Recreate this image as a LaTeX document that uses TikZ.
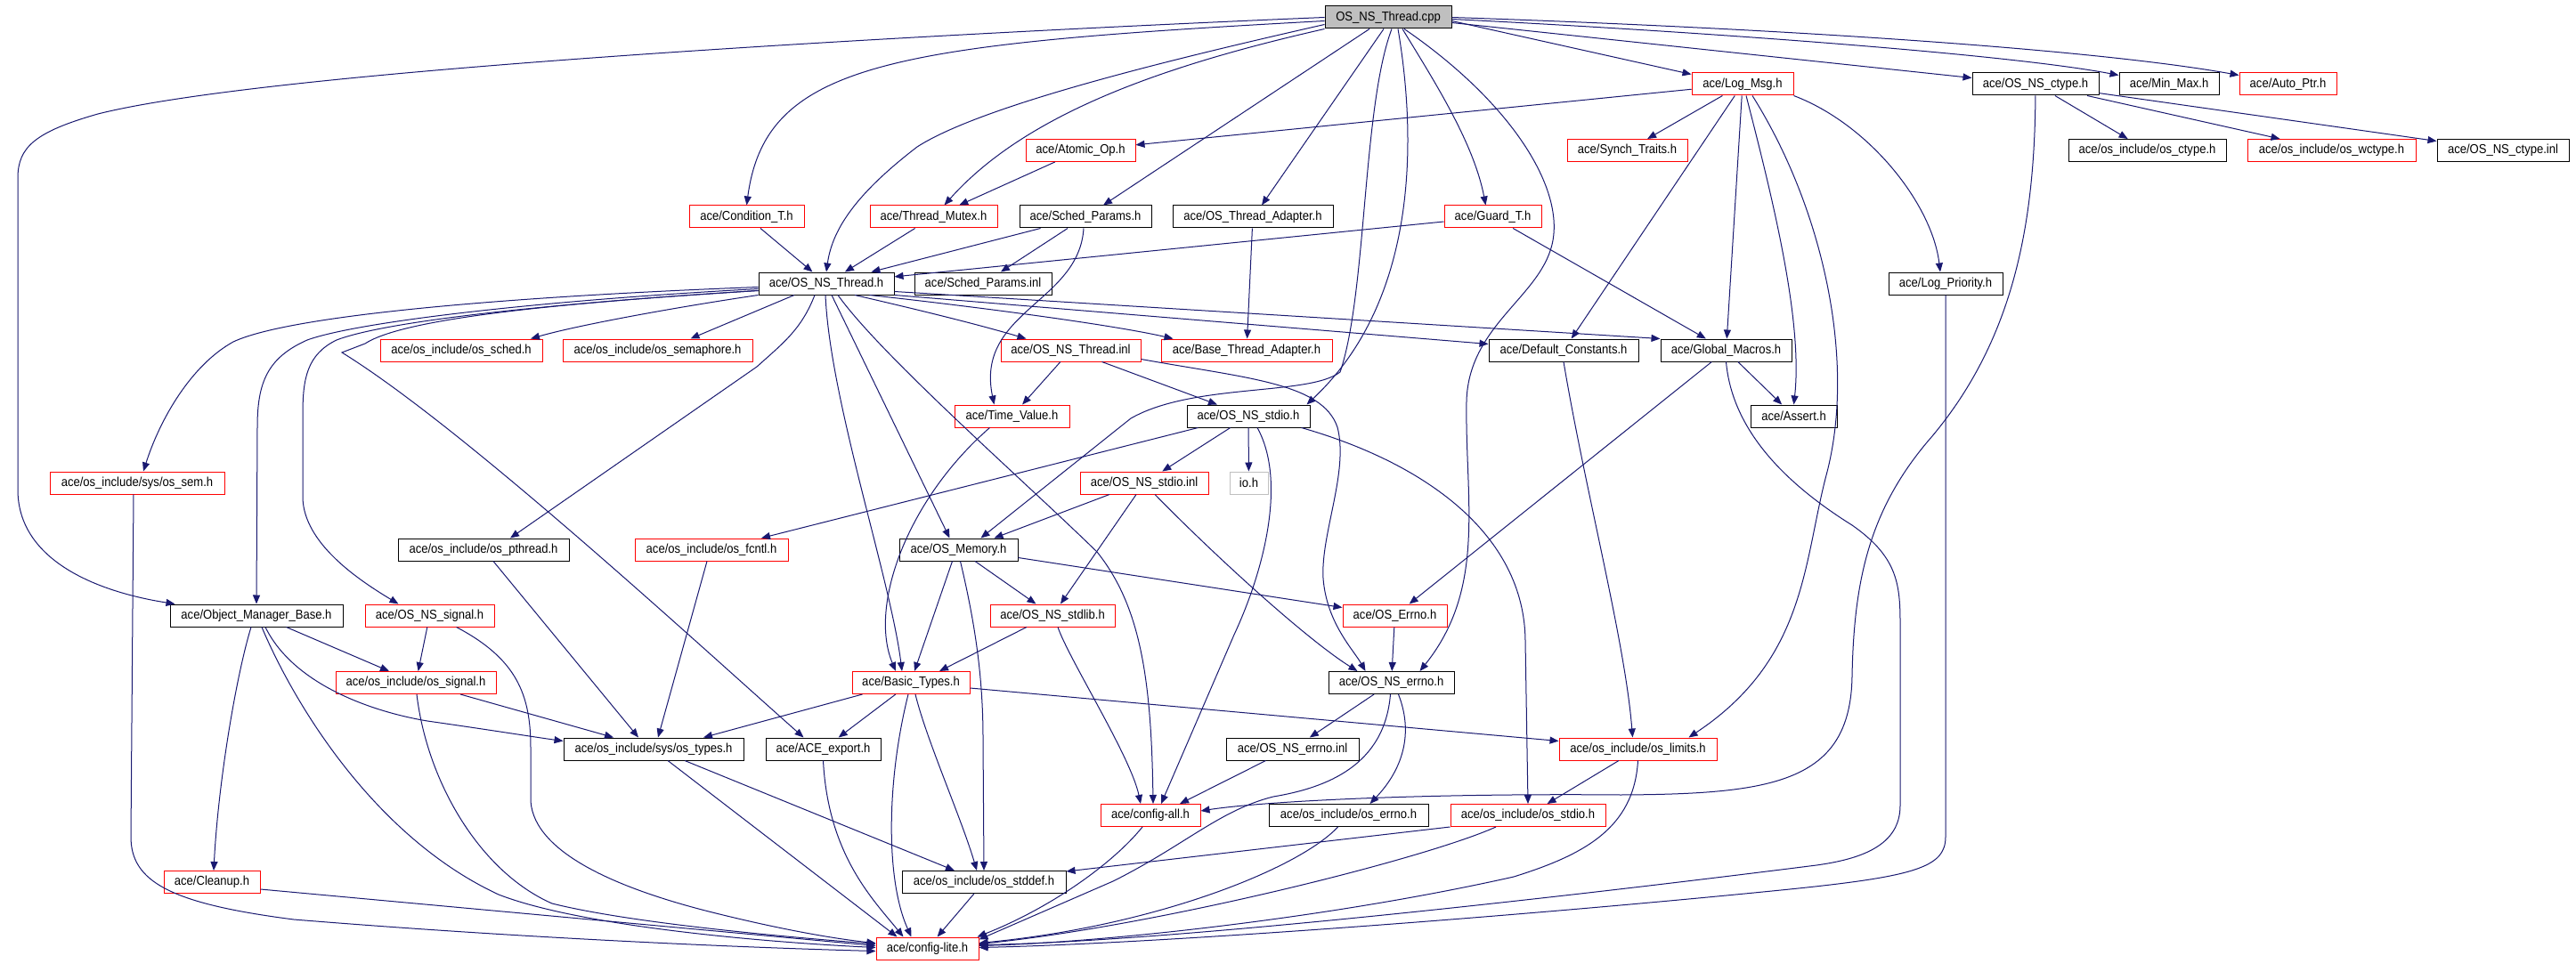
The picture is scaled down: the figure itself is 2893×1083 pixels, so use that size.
\documentclass[tikz,border=0pt]{standalone}
\usepackage{fontspec}
\setmainfont{Liberation Sans}[FakeStretch=0.9]
\usetikzlibrary{arrows.meta,calc}
\definecolor{edgeblue}{RGB}{25,25,112}
\definecolor{rootgray}{RGB}{191,191,191}
\newcommand{\lbl}{\fontsize{14.5}{16}\selectfont}
\begin{document}
\begin{tikzpicture}[x=1pt,y=-1pt,
 box/.style={rectangle, draw, line width=1pt, inner sep=0pt, minimum height=25pt, font=\lbl, fill=white},
 rb/.style={box, draw=red},
 kb/.style={box, draw=black},
 edg/.style={draw=edgeblue, line width=1pt, -{Triangle[length=10pt,width=8pt]}}]
\fill[white] (0,0) rectangle (2893,1083);
\useasboundingbox (0,0) rectangle (2893,1083);
% nodes
\node[kb, fill=rootgray, minimum width=142pt] (cpp) at (1559,19.5) {OS\_NS\_Thread.cpp};
\node[rb, minimum width=114pt] (lm) at (1957,94.5) {ace/Log\_Msg.h};
\node[kb, minimum width=142pt] (ctype) at (2286,94.5) {ace/OS\_NS\_ctype.h};
\node[kb, minimum width=112pt] (mm) at (2436,94.5) {ace/Min\_Max.h};
\node[rb, minimum width=109pt] (ap) at (2569.5,94.5) {ace/Auto\_Ptr.h};
\node[rb, minimum width=123pt] (ao) at (1213.5,169) {ace/Atomic\_Op.h};
\node[rb, minimum width=135pt] (st) at (1827.5,169) {ace/Synch\_Traits.h};
\node[kb, minimum width=177pt] (oc) at (2411.5,169) {ace/os\_include/os\_ctype.h};
\node[rb, minimum width=189pt] (owc) at (2618.5,169) {ace/os\_include/os\_wctype.h};
\node[kb, minimum width=148pt] (ci) at (2811,169) {ace/OS\_NS\_ctype.inl};
\node[rb, minimum width=129pt] (ct) at (838.5,243.5) {ace/Condition\_T.h};
\node[rb, minimum width=143pt] (tm) at (1048.5,243.5) {ace/Thread\_Mutex.h};
\node[kb, minimum width=148pt] (sp) at (1219,243.5) {ace/Sched\_Params.h};
\node[kb, minimum width=180pt] (ota) at (1407,243.5) {ace/OS\_Thread\_Adapter.h};
\node[rb, minimum width=109pt] (gt) at (1676.5,243.5) {ace/Guard\_T.h};
\node[kb, minimum width=152pt] (ost) at (928,318.5) {ace/OS\_NS\_Thread.h};
\node[kb, minimum width=154pt] (spi) at (1104,318.5) {ace/Sched\_Params.inl};
\node[kb, minimum width=128pt] (lp) at (2185,318.5) {ace/Log\_Priority.h};
\node[rb, minimum width=182pt] (osch) at (518,393.5) {ace/os\_include/os\_sched.h};
\node[rb, minimum width=213pt] (osem) at (738.5,393.5) {ace/os\_include/os\_semaphore.h};
\node[rb, minimum width=157pt] (nti) at (1202.5,393.5) {ace/OS\_NS\_Thread.inl};
\node[rb, minimum width=192pt] (bta) at (1400,393.5) {ace/Base\_Thread\_Adapter.h};
\node[kb, minimum width=168pt] (dc) at (1756,393.5) {ace/Default\_Constants.h};
\node[kb, minimum width=147pt] (gm) at (1938.5,393.5) {ace/Global\_Macros.h};
\node[rb, minimum width=129pt] (tv) at (1136.5,467.5) {ace/Time\_Value.h};
\node[kb, minimum width=138pt] (nstdio) at (1402,467.5) {ace/OS\_NS\_stdio.h};
\node[kb, minimum width=97pt] (as) at (2014.5,467.5) {ace/Assert.h};
\node[rb, minimum width=196pt] (sem) at (154,542.5) {ace/os\_include/sys/os\_sem.h};
\node[rb, minimum width=144pt] (nsi) at (1285,542.5) {ace/OS\_NS\_stdio.inl};
\node[box, draw=rootgray, minimum width=43pt] (io) at (1402.5,542.5) {io.h};
\node[kb, minimum width=192pt] (opt) at (543,617.5) {ace/os\_include/os\_pthread.h};
\node[rb, minimum width=172pt] (ofc) at (799,617.5) {ace/os\_include/os\_fcntl.h};
\node[kb, minimum width=133pt] (mem) at (1076.5,617.5) {ace/OS\_Memory.h};
\node[kb, minimum width=194pt] (omb) at (288,691.5) {ace/Object\_Manager\_Base.h};
\node[rb, minimum width=145pt] (nsig) at (482.5,691.5) {ace/OS\_NS\_signal.h};
\node[rb, minimum width=140pt] (nsl) at (1182,691.5) {ace/OS\_NS\_stdlib.h};
\node[rb, minimum width=117pt] (oerr) at (1566.5,691.5) {ace/OS\_Errno.h};
\node[rb, minimum width=180pt] (osig) at (467,767) {ace/os\_include/os\_signal.h};
\node[rb, minimum width=132pt] (bt) at (1023,767) {ace/Basic\_Types.h};
\node[kb, minimum width=141pt] (nerr) at (1562.5,767) {ace/OS\_NS\_errno.h};
\node[kb, minimum width=202pt] (oty) at (734,841.5) {ace/os\_include/sys/os\_types.h};
\node[kb, minimum width=129pt] (ae) at (924.5,841.5) {ace/ACE\_export.h};
\node[kb, minimum width=149pt] (nsei) at (1451.5,841.5) {ace/OS\_NS\_errno.inl};
\node[rb, minimum width=177pt] (lim) at (1839.5,841.5) {ace/os\_include/os\_limits.h};
\node[rb, minimum width=112pt] (ca) at (1292,916) {ace/config-all.h};
\node[kb, minimum width=179pt] (oe) at (1514.5,916) {ace/os\_include/os\_errno.h};
\node[rb, minimum width=174pt] (ostd) at (1716,916) {ace/os\_include/os\_stdio.h};
\node[rb, minimum width=108pt] (cu) at (238,991) {ace/Cleanup.h};
\node[kb, minimum width=184pt] (osd) at (1105,991) {ace/os\_include/os\_stddef.h};
\node[rb, minimum width=115pt] (cl) at (1041.5,1065.5) {ace/config-lite.h};
% cpp edges
\draw[edg] (cpp.west) .. controls (1000,40) and (300,80) .. (110,128) .. controls (40,148) and (20,165) .. (20,200) -- (20,550) .. controls (20,630) and (110,665) .. ($(omb.north west)+(6,0)$);
\draw[edg] ($(cpp.west)+(0,4)$) .. controls (1000,50) and (860,70) .. (ct.north);
\draw[edg] ($(cpp.west)+(0,8)$) .. controls (1300,70) and (1100,120) .. (1030,165) .. controls (965,215) and (935,255) .. (ost.north);
\draw[edg] (cpp.south west) .. controls (1300,75) and (1150,130) .. ($(tm.north)+(12,0)$);
\draw[edg] ($(cpp.south)+(-21,0)$) -- ($(sp.north)+(20,0)$);
\draw[edg] ($(cpp.south)+(-5,0)$) -- ($(ota.north)+(10,0)$);
\draw[edg] ($(cpp.south)+(4,0)$) .. controls (1530,120) and (1535,330) .. (1505,418) .. controls (1470,445) and (1340,430) .. (1270,470) -- ($(mem.north)+(25,0)$);
\draw[edg] ($(cpp.south)+(11,0)$) .. controls (1590,150) and (1595,335) .. ($(nstdio.north east)+(-4,0)$);
\draw[edg] ($(cpp.south)+(16,0)$) .. controls (1610,90) and (1655,160) .. ($(gt.north)+(-8,0)$);
\draw[edg] ($(cpp.south)+(18,0)$) .. controls (1690,110) and (1750,200) .. (1745,262) .. controls (1740,330) and (1650,360) .. (1647,450) .. controls (1645,560) and (1670,660) .. ($(nerr.north)+(32,0)$);
\draw[edg] ($(cpp.east)+(0,4)$) -- ($(lm.north west)+(0,2)$);
\draw[edg] (cpp.east) .. controls (2000,32) and (2350,55) .. ($(ap.north west)+(0,3)$);
\draw[edg] ($(cpp.east)+(0,2)$) .. controls (1900,35) and (2250,60) .. ($(mm.north west)+(0,3)$);
\draw[edg] ($(cpp.east)+(0,6)$) -- ($(ctype.north west)+(0,6)$);
% Log_Msg
\draw[edg] (lm) -- (ao);
\draw[edg] (lm) -- (st);
\draw[edg] (lm) -- (dc);
\draw[edg] (lm) -- (gm);
\draw[edg] ($(lm.south)+(4,0)$) .. controls (1990,220) and (2025,360) .. (as.north);
\draw[edg] ($(lm.south)+(11,0)$) .. controls (2045,230) and (2085,400) .. (2052,530) .. controls (2025,630) and (2030,740) .. ($(lim.north)+(57,0)$);
\draw[edg] (lm.south east) .. controls (2100,140) and (2170,230) .. ($(lp.north)+(-6,0)$);
% OS_NS_ctype.h
\draw[edg] (ctype) .. controls (2285,250) and (2262,380) .. (2170,490) .. controls (2100,570) and (2082,650) .. (2080,760) .. controls (2078,880) and (1990,892) .. (1820,893) .. controls (1600,891) and (1420,900) .. ($(ca.east)+(0,-5)$);
\draw[edg] (ctype) -- (oc);
\draw[edg] (ctype) -- (owc);
\draw[edg] (ctype) -- (ci);
% second row
\draw[edg] (ao) -- (tm);
\draw[edg] (ct) -- (ost);
\draw[edg] (tm) -- (ost);
\draw[edg] (sp) -- (ost);
\draw[edg] (sp) -- (spi);
\draw[edg] ($(sp.south)+(-2,0)$) .. controls (1212,340) and (1095,350) .. ($(tv.north)+(-20,0)$);
\draw[edg] (ota) -- (bta);
\draw[edg] (gt) -- (ost);
\draw[edg] (gt) -- (gm);
% OS_NS_Thread.h
\draw[edg] ($(ost.west)+(0,4)$) .. controls (600,332) and (330,352) .. (262,384) .. controls (215,410) and (180,470) .. ($(sem.north)+(7,0)$);
\draw[edg] ($(ost.west)+(0,6)$) .. controls (600,338) and (400,362) .. (345,382) .. controls (300,402) and (289,430) .. (289,480) -- (omb.north);
\draw[edg] ($(ost.west)+(0,8)$) .. controls (600,342) and (430,362) .. (378,382) .. controls (345,398) and (340,425) .. (340,465) -- (340,560) .. controls (342,610) and (400,650) .. ($(nsig.north)+(-35,0)$);
\draw[edg] ($(ost.west)+(0,8)$) .. controls (600,342) and (450,360) .. (410,386) -- (384,396) .. controls (520,480) and (780,720) .. ($(ae.north)+(-22,0)$);
\draw[edg] (ost.south west) .. controls (760,345) and (650,365) .. ($(osch.north)+(78,0)$);
\draw[edg] ($(ost.south)+(-36,0)$) -- ($(osem.north)+(37,0)$);
\draw[edg] ($(ost.south)+(-13,0)$) .. controls (900,370) and (880,385) .. (850,412) -- ($(opt.north)+(30,0)$);
\draw[edg] ($(ost.south)+(-1,0)$) .. controls (932,450) and (1000,650) .. ($(bt.north)+(-10,0)$);
\draw[edg] ($(ost.south)+(6,0)$) -- ($(mem.north)+(-10,0)$);
\draw[edg] ($(ost.south)+(13,0)$) .. controls (990,400) and (1150,540) .. (1232,620) .. controls (1280,680) and (1293,760) .. ($(ca.north)+(3,0)$);
\draw[edg] ($(ost.south)+(32,0)$) .. controls (1040,350) and (1100,365) .. ($(nti.north)+(-50,0)$);
\draw[edg] ($(ost.south east)+(-28,0)$) .. controls (1100,345) and (1250,365) .. ($(bta.north west)+(14,0)$);
\draw[edg] (ost.south east) -- ($(dc.north west)+(0,6)$);
\draw[edg] ($(ost.east)+(0,9)$) -- (gm.north west);
% OS_NS_Thread.inl
\draw[edg] (nti) -- (tv);
\draw[edg] (nti) -- (nstdio);
\draw[edg] ($(nti.south east)+(0,-3)$) .. controls (1400,425) and (1485,430) .. (1502,480) .. controls (1515,530) and (1483,600) .. (1486,650) .. controls (1490,700) and (1520,730) .. ($(nerr.north)+(-29,0)$);
% OS_NS_stdio.h
\draw[edg] ($(nstdio.south west)+(13,0)$) -- ($(ofc.north)+(56,0)$);
\draw[edg] (nstdio) -- (nsi);
\draw[edg] (nstdio) -- (io);
\draw[edg] ($(nstdio.south)+(10,0)$) .. controls (1445,540) and (1420,640) .. (1386,713) -- ($(ca.north)+(12,0)$);
\draw[edg] ($(nstdio.south east)+(-10,0)$) .. controls (1600,520) and (1712,600) .. (1713,720) -- (ostd.north);
% OS_NS_stdio.inl
\draw[edg] ($(nsi.south)+(-39,0)$) -- ($(mem.north)+(40,0)$);
\draw[edg] (nsi) -- (nsl);
\draw[edg] ($(nsi.south)+(12,0)$) .. controls (1370,630) and (1470,720) .. ($(nerr.north)+(-38,0)$);
% OS_Memory.h
\draw[edg] ($(mem.east)+(0,9)$) -- ($(oerr.north west)+(0,4)$);
\draw[edg] (mem) -- (nsl);
\draw[edg] ($(mem.south)+(-7,0)$) -- ($(bt.north)+(4,0)$);
\draw[edg] ($(mem.south)+(2,0)$) .. controls (1095,700) and (1104,760) .. (1104,830) -- (osd.north);
% OS_NS_stdlib.h
\draw[edg] ($(nsl.south)+(-29,0)$) -- ($(bt.north)+(32,0)$);
\draw[edg] ($(nsl.south)+(6,0)$) .. controls (1200,740) and (1270,850) .. ($(ca.north)+(-11,0)$);
% Time_Value.h
\draw[edg] ($(tv.south)+(-25,0)$) .. controls (1020,560) and (975,680) .. ($(bt.north)+(-17,0)$);
% Global_Macros.h
\draw[edg] (gm) -- (as);
\draw[edg] (gm) -- (oerr);
\draw[edg] (gm.south) .. controls (1945,480) and (2000,540) .. (2080,590) .. controls (2130,625) and (2134,655) .. (2134,700) -- (2134,905) .. controls (2134,950) and (2090,965) .. (2040,972) .. controls (1700,1015) and (1300,1058) .. ($(cl.east)+(0,-4)$);
% Default_Constants.h
\draw[edg] (dc.south) .. controls (1780,550) and (1825,720) .. ($(lim.north)+(-6,0)$);
% Log_Priority.h
\draw[edg] (lp.south) -- (2185,940) .. controls (2185,975) and (2150,985) .. (2000,1000) .. controls (1700,1030) and (1300,1060) .. ($(cl.east)+(0,-1)$);
% errno group
\draw[edg] (oerr) -- (nerr);
\draw[edg] (nerr) -- (nsei);
\draw[edg] ($(nerr.south)+(8,0)$) .. controls (1590,830) and (1570,870) .. ($(oe.north)+(24,0)$);
\draw[edg] ($(nerr.south)+(-1,0)$) .. controls (1555,860) and (1490,885) .. (1430,895) .. controls (1370,910) and (1330,950) .. (1250,990) -- ($(cl.east)+(0,-10)$);
\draw[edg] ($(nsei.south)+(-30,0)$) -- ($(ca.north)+(33,0)$);
% limits / stdio / errno
\draw[edg] (lim) -- (ostd);
\draw[edg] (lim.south) .. controls (1835,930) and (1780,960) .. (1700,985) .. controls (1500,1030) and (1250,1058) .. ($(cl.east)+(0,-3)$);
\draw[edg] ($(oe.south)+(-12,0)$) .. controls (1460,975) and (1300,1040) .. ($(cl.east)+(0,-6)$);
\draw[edg] (ostd.south west) -- ($(osd.north east)+(0,1)$);
\draw[edg] ($(ostd.south)+(-36,0)$) .. controls (1600,965) and (1300,1040) .. ($(cl.east)+(0,-5)$);
\draw[edg] ($(ca.south)+(-9,0)$) .. controls (1250,970) and (1180,1020) .. ($(cl.north east)+(-2,0)$);
% Basic_Types.h
\draw[edg] ($(bt.south west)+(12,0)$) -- ($(oty.north)+(56,0)$);
\draw[edg] (bt) -- (ae);
\draw[edg] ($(bt.south)+(-3,0)$) .. controls (995,880) and (995,990) .. ($(cl.north)+(-18,0)$);
\draw[edg] ($(bt.south)+(5,0)$) .. controls (1040,830) and (1080,920) .. ($(osd.north)+(-8,0)$);
\draw[edg] ($(bt.east)+(0,6)$) -- ($(lim.west)+(0,-9)$);
% ACE_export, os_types, os_stddef
\draw[edg] (ae.south) .. controls (930,960) and (980,1010) .. ($(cl.north)+(-27,0)$);
\draw[edg] ($(oty.south)+(16,0)$) -- ($(cl.north)+(-34,0)$);
\draw[edg] ($(oty.south)+(35,0)$) -- ($(osd.north)+(-33,0)$);
\draw[edg] (osd) -- (cl);
% left group
\draw[edg] ($(cu.east)+(0,8)$) -- ($(cl.west)+(0,-3)$);
\draw[edg] ($(sem.south)+(-4,0)$) -- (147,940) .. controls (147,990) and (190,1015) .. (330,1033) .. controls (600,1055) and (850,1065) .. ($(cl.west)+(0,3)$);
\draw[edg] ($(omb.south)+(6,0)$) .. controls (330,790) and (420,940) .. (560,1005) .. controls (650,1040) and (850,1058) .. ($(cl.west)+(0,-1)$);
\draw[edg] ($(omb.south)+(-6,0)$) .. controls (265,760) and (245,880) .. ($(cu.north)+(2,0)$);
\draw[edg] ($(omb.south east)+(-64,0)$) -- ($(osig.north)+(-30,0)$);
\draw[edg] ($(omb.south)+(10,0)$) .. controls (330,770) and (420,800) .. (480,810) .. controls (550,820) and (600,828) .. ($(oty.west)+(0,-9)$);
\draw[edg] (nsig) -- (osig);
\draw[edg] ($(nsig.south)+(30,0)$) .. controls (580,740) and (596,780) .. (596,840) -- (596,900) .. controls (600,960) and (700,1000) .. (800,1025) .. controls (880,1045) and (940,1055) .. ($(cl.west)+(0,-6)$);
\draw[edg] ($(osig.south)+(50,0)$) -- ($(oty.north)+(-45,0)$);
\draw[edg] ($(osig.south)+(1,0)$) .. controls (480,880) and (540,980) .. (620,1015) .. controls (700,1035) and (850,1050) .. ($(cl.west)+(0,-5)$);
\draw[edg] ($(opt.south)+(11,0)$) -- ($(oty.north)+(-17,0)$);
\draw[edg] ($(ofc.south)+(-5,0)$) -- ($(oty.north)+(5,0)$);
\end{tikzpicture}
\end{document}
